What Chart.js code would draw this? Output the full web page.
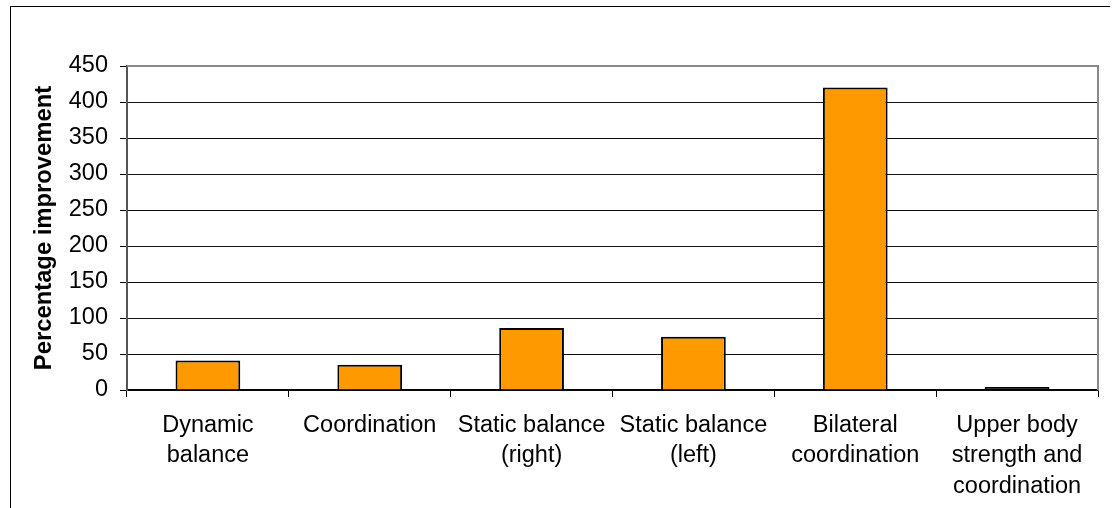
<!DOCTYPE html>
<html>
<head>
<meta charset="utf-8">
<script src="https://cdn.jsdelivr.net/npm/chart.js@4/dist/chart.umd.min.js"></script>
<style>
  html, body { margin: 0; padding: 0; background: #fff; }
  #wrap { position: relative; width: 1115px; height: 508px; overflow: hidden; }
  #frame { position: absolute; left: 10px; top: 6px; width: 1100px; height: 520px;
           border-left: 1.5px solid #000; border-top: 1.5px solid #000; box-sizing: border-box; }
  canvas { position: absolute; left: 0; top: 0; }
</style>
</head>
<body>
<div id="wrap">
  <div id="frame"></div>
  <canvas id="c" width="1115" height="508"></canvas>
</div>
<script>
// Skill categories (multi-line labels) and improvement per category
const categories = [
  ["Dynamic", "balance"],
  ["Coordination"],
  ["Static balance", "(right)"],
  ["Static balance", "(left)"],
  ["Bilateral", "coordination"],
  ["Upper body", "strength and", "coordination"]
];
const improvement = [41, 35, 86, 74, 420, 4];
const yTicks = [0, 50, 100, 150, 200, 250, 300, 350, 400, 450];
const yTitle = "Percentage improvement";

const FONT = "'Liberation Sans', Arial, sans-serif";

// Grey frame on the top and right edges of the plot area
const plotFrame = {
  id: 'plotFrame',
  afterDraw(chart) {
    const a = chart.chartArea, ctx = chart.ctx;
    ctx.save();
    ctx.strokeStyle = '#8a8a8a';
    ctx.lineWidth = 2;
    ctx.beginPath();
    ctx.moveTo(a.left, a.top);
    ctx.lineTo(a.right, a.top);
    ctx.lineTo(a.right, a.bottom);
    ctx.stroke();
    ctx.restore();
  }
};

new Chart(document.getElementById('c'), {
  type: 'bar',
  data: {
    labels: categories,
    datasets: [{
      data: improvement,
      // a bar shorter than its outline shows only the outline colour
      backgroundColor: ctx => (ctx.raw !== undefined && ctx.raw < 5) ? '#000' : '#FF9900',
      borderColor: '#000',
      borderWidth: 2,
      barPercentage: 0.4,
      categoryPercentage: 1.0
    }]
  },
  options: {
    responsive: false,
    animation: false,
    devicePixelRatio: 1,
    layout: { padding: { left: 0, top: 66, right: 17, bottom: 0 } },
    plugins: { legend: { display: false }, tooltip: { enabled: false } },
    scales: {
      x: {
        grid: { drawOnChartArea: false, drawTicks: true, tickLength: 7, color: '#000', offset: true },
        border: { display: true, color: '#000', width: 1.5 },
        ticks: {
          color: '#000', padding: 13, maxRotation: 0, autoSkip: false,
          font: { family: FONT, size: 23.5, lineHeight: '30.5px' }
        },
        afterFit(scale) { scale.height = 118; }
      },
      y: {
        min: 0, max: 450,
        afterBuildTicks(scale) { scale.ticks = yTicks.map(v => ({ value: v })); },
        grid: {
          color: ctx => (ctx.tick && ctx.tick.value === 450) ? 'rgba(0,0,0,0)' : '#111',
          lineWidth: 1, tickLength: 7, tickColor: '#000'
        },
        border: { display: true, color: '#555', width: 2 },
        ticks: {
          color: '#000', padding: 12,
          font: { family: FONT, size: 23.5 }
        },
        title: {
          display: true, text: yTitle, color: '#000',
          padding: { top: 30, bottom: 0 },
          font: { family: FONT, size: 23.8, weight: 'bold' }
        },
        afterFit(scale) { scale.width = 127; }
      }
    }
  },
  plugins: [plotFrame]
});
</script>
</body>
</html>
